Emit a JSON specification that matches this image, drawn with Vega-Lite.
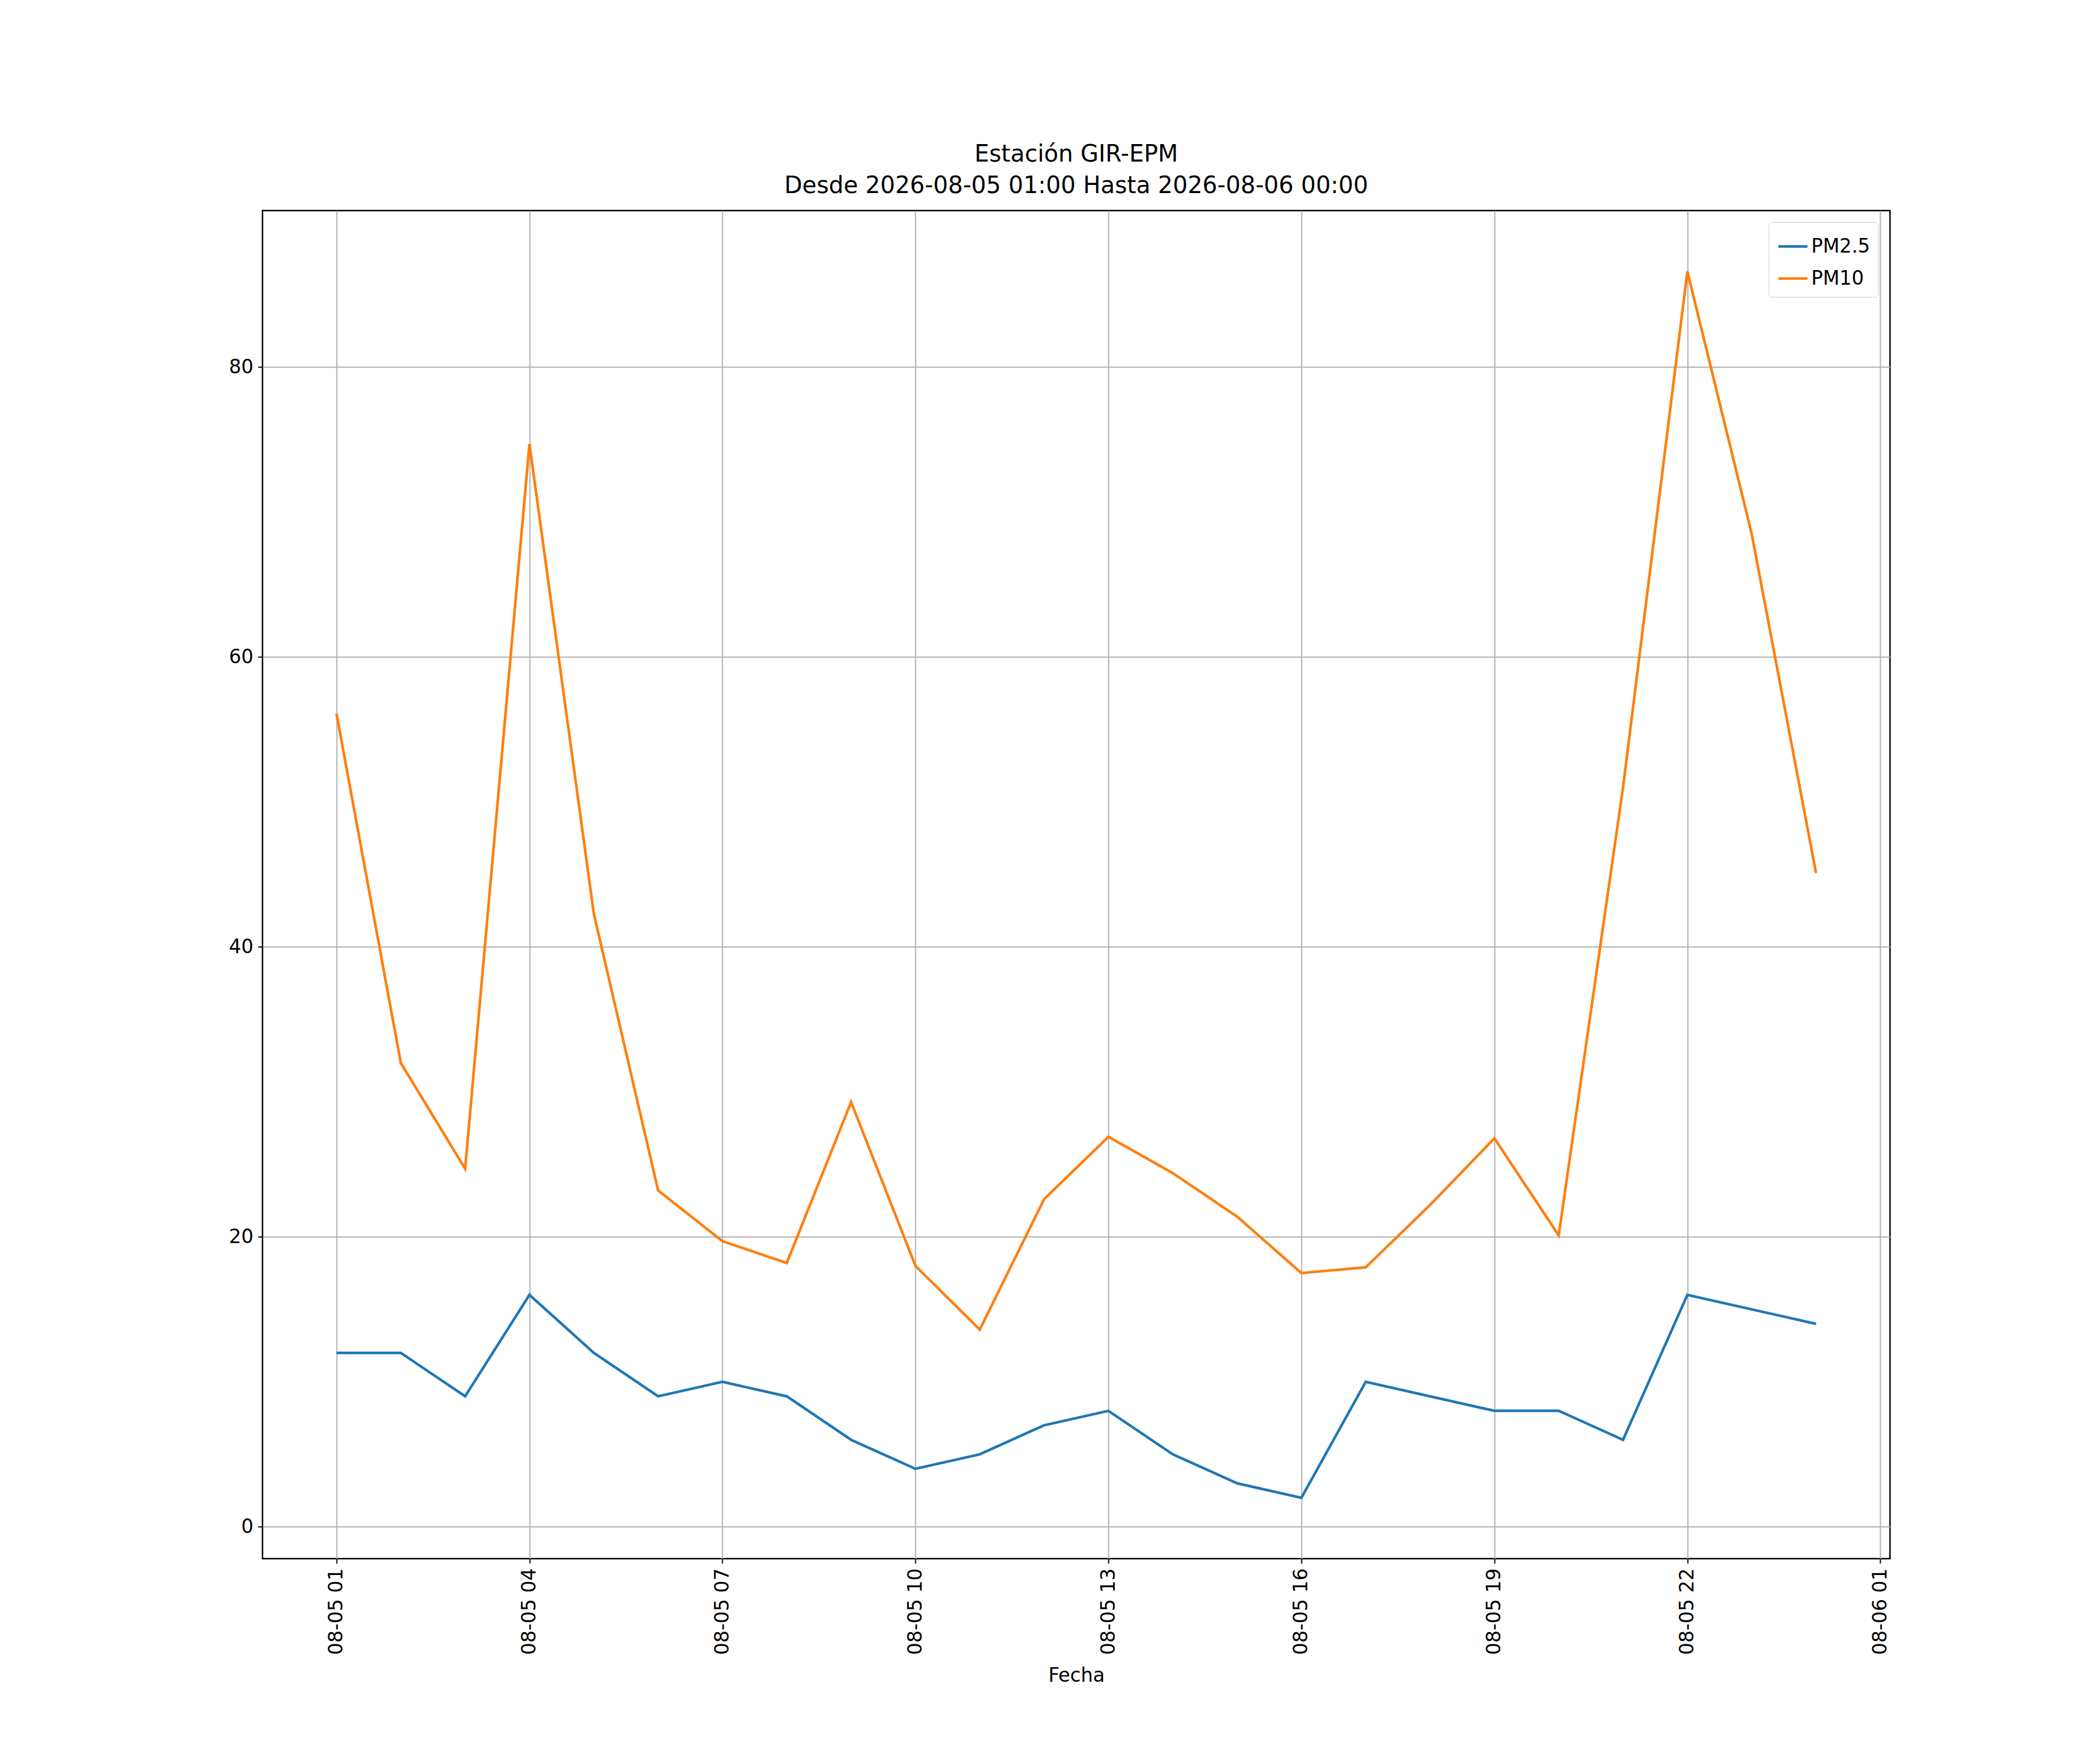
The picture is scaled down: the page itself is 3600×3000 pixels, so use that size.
{
"$schema":"https://vega.github.io/schema/vega-lite/v6.json",
"width":2790,"height":2311,
"autosize":{"type":"none"},
"padding":{"left":450,"top":361,"right":360,"bottom":328},
"background":"white",
"config":{"font":"DejaVu Sans","view":{"stroke":"black","strokeWidth":2.5}},
"title":{"text":["Estación GIR-EPM","Desde 2026-08-05 01:00 Hasta 2026-08-06 00:00"],"fontSize":40,"fontWeight":"normal","anchor":"middle","offset":22,"lineHeight":54,"font":"DejaVu Sans"},
"data":{"values":[
{"t":"2026-08-05T01:00:00Z","s":"PM2.5","v":12},{"t":"2026-08-05T02:00:00Z","s":"PM2.5","v":12},{"t":"2026-08-05T03:00:00Z","s":"PM2.5","v":9},{"t":"2026-08-05T04:00:00Z","s":"PM2.5","v":16},{"t":"2026-08-05T05:00:00Z","s":"PM2.5","v":12},{"t":"2026-08-05T06:00:00Z","s":"PM2.5","v":9},{"t":"2026-08-05T07:00:00Z","s":"PM2.5","v":10},{"t":"2026-08-05T08:00:00Z","s":"PM2.5","v":9},{"t":"2026-08-05T09:00:00Z","s":"PM2.5","v":6},{"t":"2026-08-05T10:00:00Z","s":"PM2.5","v":4},{"t":"2026-08-05T11:00:00Z","s":"PM2.5","v":5},{"t":"2026-08-05T12:00:00Z","s":"PM2.5","v":7},{"t":"2026-08-05T13:00:00Z","s":"PM2.5","v":8},{"t":"2026-08-05T14:00:00Z","s":"PM2.5","v":5},{"t":"2026-08-05T15:00:00Z","s":"PM2.5","v":3},{"t":"2026-08-05T16:00:00Z","s":"PM2.5","v":2},{"t":"2026-08-05T17:00:00Z","s":"PM2.5","v":10},{"t":"2026-08-05T18:00:00Z","s":"PM2.5","v":9},{"t":"2026-08-05T19:00:00Z","s":"PM2.5","v":8},{"t":"2026-08-05T20:00:00Z","s":"PM2.5","v":8},{"t":"2026-08-05T21:00:00Z","s":"PM2.5","v":6},{"t":"2026-08-05T22:00:00Z","s":"PM2.5","v":16},{"t":"2026-08-05T23:00:00Z","s":"PM2.5","v":15},{"t":"2026-08-06T00:00:00Z","s":"PM2.5","v":14},
{"t":"2026-08-05T01:00:00Z","s":"PM10","v":56.1},{"t":"2026-08-05T02:00:00Z","s":"PM10","v":32},{"t":"2026-08-05T03:00:00Z","s":"PM10","v":24.7},{"t":"2026-08-05T04:00:00Z","s":"PM10","v":74.7},{"t":"2026-08-05T05:00:00Z","s":"PM10","v":42.3},{"t":"2026-08-05T06:00:00Z","s":"PM10","v":23.2},{"t":"2026-08-05T07:00:00Z","s":"PM10","v":19.7},{"t":"2026-08-05T08:00:00Z","s":"PM10","v":18.2},{"t":"2026-08-05T09:00:00Z","s":"PM10","v":29.3},{"t":"2026-08-05T10:00:00Z","s":"PM10","v":18},{"t":"2026-08-05T11:00:00Z","s":"PM10","v":13.6},{"t":"2026-08-05T12:00:00Z","s":"PM10","v":22.6},{"t":"2026-08-05T13:00:00Z","s":"PM10","v":26.9},{"t":"2026-08-05T14:00:00Z","s":"PM10","v":24.4},{"t":"2026-08-05T15:00:00Z","s":"PM10","v":21.4},{"t":"2026-08-05T16:00:00Z","s":"PM10","v":17.5},{"t":"2026-08-05T17:00:00Z","s":"PM10","v":17.9},{"t":"2026-08-05T18:00:00Z","s":"PM10","v":22.2},{"t":"2026-08-05T19:00:00Z","s":"PM10","v":26.8},{"t":"2026-08-05T20:00:00Z","s":"PM10","v":20.1},{"t":"2026-08-05T21:00:00Z","s":"PM10","v":51},{"t":"2026-08-05T22:00:00Z","s":"PM10","v":86.6},{"t":"2026-08-05T23:00:00Z","s":"PM10","v":68.5},{"t":"2026-08-06T00:00:00Z","s":"PM10","v":45.1}
]},
"mark":{"type":"line","strokeWidth":4.5,"clip":true},
"encoding":{
"x":{"field":"t","type":"temporal","scale":{"type":"utc","domain":["2026-08-04T23:51:00Z","2026-08-06T01:09:00Z"]},
"axis":{"title":"Fecha","titleFontSize":33,"titleFontWeight":"normal","titlePadding":20,"labelAngle":-90,"labelFontSize":33,"labelColor":"black","labelExpr":"utcFormat(datum.value, '%m-%d %H')","values":[{"year":2026,"month":8,"date":5,"hours":1,"utc":true},{"year":2026,"month":8,"date":5,"hours":4,"utc":true},{"year":2026,"month":8,"date":5,"hours":7,"utc":true},{"year":2026,"month":8,"date":5,"hours":10,"utc":true},{"year":2026,"month":8,"date":5,"hours":13,"utc":true},{"year":2026,"month":8,"date":5,"hours":16,"utc":true},{"year":2026,"month":8,"date":5,"hours":19,"utc":true},{"year":2026,"month":8,"date":5,"hours":22,"utc":true},{"year":2026,"month":8,"date":6,"hours":1,"utc":true}],"tickSize":8,"tickWidth":2,"tickColor":"black","domain":false,"grid":true,"gridColor":"#b0b0b0","gridWidth":2,"labelPadding":8}},
"y":{"field":"v","type":"quantitative","scale":{"domain":[-2.2,90.8],"nice":false,"zero":false},
"axis":{"title":null,"values":[0,20,40,60,80],"labelFontSize":33,"labelColor":"black","tickSize":8,"tickWidth":2,"tickColor":"black","domain":false,"grid":true,"gridColor":"#b0b0b0","gridWidth":2,"labelPadding":8}},
"color":{"field":"s","type":"nominal","sort":["PM2.5","PM10"],"scale":{"domain":["PM2.5","PM10"],"range":["#1f77b4","#ff7f0e"]},
"legend":{"title":null,"orient":"top-right","offset":20,"labelFontSize":33,"symbolType":"stroke","symbolSize":2500,"symbolStrokeWidth":4.5,"strokeColor":"#cccccc","fillColor":"white","padding":14,"rowPadding":10,"cornerRadius":6}}
}
}
